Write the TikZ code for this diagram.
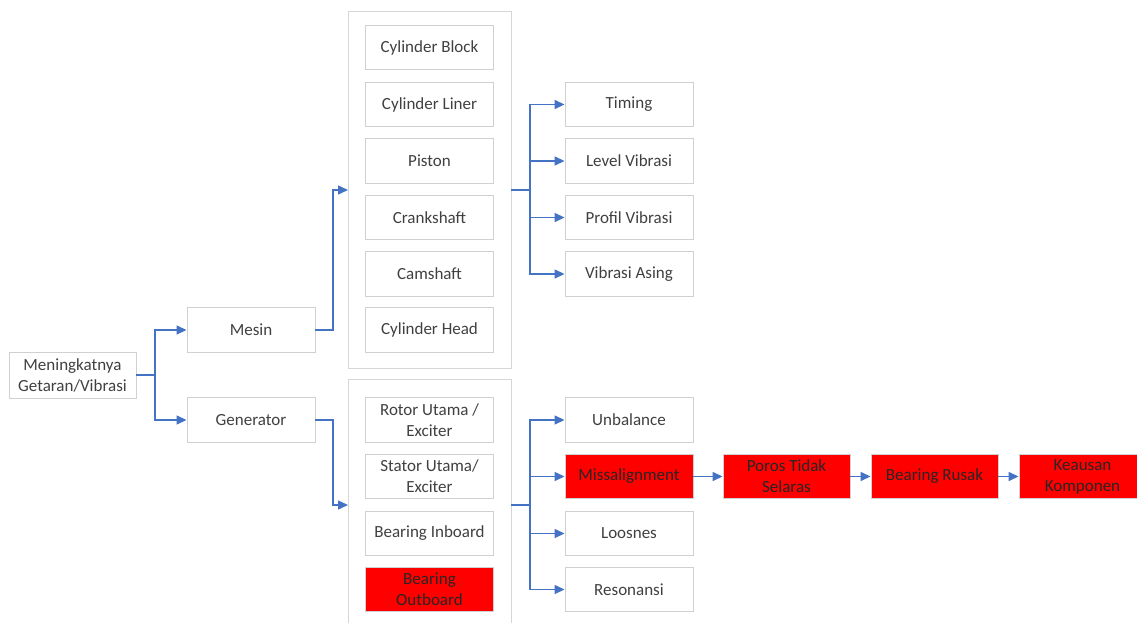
\documentclass[tikz,border=0pt]{standalone}
\usepackage{fontspec}
\setmainfont{Carlito}
\usetikzlibrary{arrows.meta,positioning}
\definecolor{txt}{HTML}{404040}
\definecolor{bord}{HTML}{D0D0D0}
\definecolor{cont}{HTML}{D6D6D6}
\definecolor{arr}{HTML}{4472C4}
\definecolor{redf}{HTML}{FF0000}
\tikzset{
  bx/.style={draw=bord, line width=0.9pt, fill=white, minimum width=128pt, minimum height=44.5pt,
    inner sep=1pt, align=center, text=txt, font=\fontsize{17}{21}\selectfont},
  rbx/.style={bx, fill=redf, draw=bord, text=black!85},
  contbox/.style={draw=cont, line width=0.9pt},
  con/.style={draw=arr, line width=1.4pt, -{Triangle[length=10pt,width=9pt]}},
}
\begin{document}
\begin{tikzpicture}[x=1pt,y=-1pt]
\useasboundingbox (0,0) rectangle (1137,623);
% containers
\draw[contbox] (348,11) rectangle (511,368);
\draw[contbox] (348,630) -- (348,379) -- (511,379) -- (511,630);
% left
\node[bx, minimum width=127pt, minimum height=46pt] (root) at (72.5,375) {Meningkatnya\\Getaran/Vibrasi};
\node[bx] (mesin) at (251,330) {Mesin};
\node[bx] (gen) at (251,420) {Generator};
% mesin parts
\node[bx] (cb) at (429.5,47.5) {Cylinder Block};
\node[bx] (cl) at (429.5,104.5) {Cylinder Liner};
\node[bx] (pi) at (429.5,161) {Piston};
\node[bx] (cs) at (429.5,217.5) {Crankshaft};
\node[bx] (cm) at (429.5,274) {Camshaft};
\node[bx] (ch) at (429.5,330) {Cylinder Head};
% generator parts
\node[bx] (ro) at (429.5,420) {Rotor Utama /\\Exciter};
\node[bx] (st) at (429.5,476.5) {Stator Utama/\\Exciter};
\node[bx] (bi) at (429.5,533.5) {Bearing Inboard};
\node[rbx] (bo) at (429.5,589.5) {Bearing\\Outboard};
% mesin symptoms
\node[bx] (ti) at (629,104.5) {Timing};
\node[bx] (lv) at (629,161) {Level Vibrasi};
\node[bx] (pv) at (629,217.5) {Profil Vibrasi};
\node[bx] (va) at (629,274) {Vibrasi Asing};
% generator symptoms
\node[bx] (ub) at (629,420) {Unbalance};
\node[rbx] (ms) at (629,476.5) {Missalignment};
\node[bx] (lo) at (629,533.5) {Loosnes};
\node[bx] (re) at (629,589.5) {Resonansi};
% chain
\node[rbx, minimum width=127pt] (po) at (786.5,476.5) {Poros Tidak\\Selaras};
\node[rbx, minimum width=127pt] (br) at (934.5,476.5) {Bearing Rusak};
\node[rbx, minimum width=127pt] (ke) at (1082.5,476.5) {Keausan\\Komponen};
% coordinates
\coordinate (mc) at (348,190);
\coordinate (gc) at (348,505);
\coordinate (mr) at (511,190);
\coordinate (gr) at (511,505);
% connectors
\draw[con] (root.east) -- (155,375) |- (mesin.west);
\draw[con] (root.east) -- (155,375) |- (gen.west);
\draw[con] (mesin.east) -- (333,330) |- (mc);
\draw[con] (gen.east) -- (333,420) |- (gc);
\foreach \n in {ti,lv,pv,va}{
  \draw[con] (mr) -- (530,190) |- (\n.west);
}
\foreach \n in {ub,ms,lo,re}{
  \draw[con] (gr) -- (530,505) |- (\n.west);
}
\draw[con] (ms.east) -- (po.west);
\draw[con] (po.east) -- (br.west);
\draw[con] (br.east) -- (ke.west);
\end{tikzpicture}
\end{document}
